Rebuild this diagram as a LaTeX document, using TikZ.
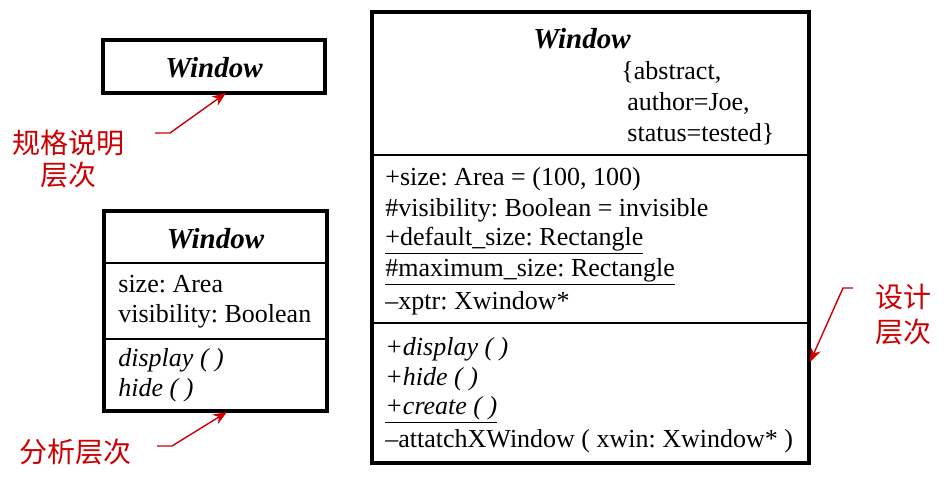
\documentclass[tikz,border=0pt]{standalone}
\usepackage{fontspec}
\setmainfont{Liberation Serif}
\newfontfamily\cjk{Noto Sans CJK SC}
\usetikzlibrary{arrows.meta}
\frenchspacing

\definecolor{notered}{RGB}{204,0,0}

\tikzset{
	classbox/.style={draw, line width=2pt, inner sep=0pt},
	divider/.style={line width=1pt},
	member/.style={anchor=west, inner sep=0pt, font=\fontsize{13}{15}\selectfont},
	classname/.style={inner sep=0pt, font=\fontsize{14.5}{16}\selectfont\bfseries\itshape},
	note/.style={inner sep=0pt, text=notered, font=\cjk\fontsize{14}{16}\selectfont},
	pointer/.style={draw=notered, line width=0.7pt, -{Stealth[length=7pt,width=5.5pt]}},
}

\begin{document}
\begin{tikzpicture}[x=0.5pt, y=-0.5pt]
	
	\useasboundingbox (0,0) rectangle (951,485);
	
	% specification level
	\node [classbox, minimum width=111pt, minimum height=26.5pt] (spec) at (214,66.5) {};
	\node [classname] (specname) at (214,68) {Window};
	
	% analysis level
	\node [classbox, minimum width=111.5pt, minimum height=100pt] (ana) at (215.5,311) {};
	\draw [divider] (ana.west |- 0,263) -- (ana.east |- 0,263);
	\draw [divider] (ana.west |- 0,339) -- (ana.east |- 0,339);
	\node [classname] (ananame) at (215.5,239) {Window};
	\node [member] (anasize) at (118,284) {size: Area};
	\node [member] (anavis) at (118,316) {visibility: Boolean};
	\node [member] (anadisp) at (118,360) {\textit{display ( )}};
	\node [member] (anahide) at (118,390) {\textit{hide ( )}};
	
	% design level
	\node [classbox, minimum width=218.5pt, minimum height=225.5pt] (design) at (590.5,237.5) {};
	\draw [divider] (design.west |- 0,155) -- (design.east |- 0,155);
	\draw [divider] (design.west |- 0,323) -- (design.east |- 0,323);
	\node [classname] (designname) at (582,39) {Window};
	\node [member] (tag1) at (621,72) {\{abstract,};
	\node [member] (tag2) at (627,103) {author=Joe,};
	\node [member] (tag3) at (627,134) {status=tested\}};
	
	\node [member] (attr1) at (385,179) {+size: Area = (100, 100)};
	\node [member] (attr2) at (385,210) {\#visibility: Boolean = invisible};
	\node [member] (attr3) at (385,241) {\underline{+default\_size: Rectangle}};
	\node [member] (attr4) at (385,272) {\underline{\#maximum\_size: Rectangle}};
	\node [member] (attr5) at (385,303) {--xptr: Xwindow*};
	
	\node [member] (op1) at (385,349) {\textit{+display ( )}};
	\node [member] (op2) at (385,379) {\textit{+hide ( )}};
	\node [member] (op3) at (385,410) {\underline{\textit{+create ( )}}};
	\node [member] (op4) at (385,441) {--attatchXWindow ( xwin: Xwindow* )};
	
	% red notes
	\node [note] (specnote) at (68,143) {规格说明};
	\node [note] (specnote2) at (68,175) {层次};
	\node [note] (ananote) at (75,452) {分析层次};
	\node [note] (designnote) at (903,297) {设计};
	\node [note] (designnote2) at (903,332) {层次};
	
	\coordinate (specfrom) at (155,133);
	\coordinate (specto) at (226,93);
	\coordinate (anafrom) at (157,446);
	\coordinate (anato) at (227,412);
	\coordinate (designfrom) at (853,288);
	\coordinate (designto) at (810,362);
	
	\draw [pointer] (specfrom) -- ++(15,0) -- (specto);
	\draw [pointer] (anafrom) -- ++(15,0) -- (anato);
	\draw [pointer] (designfrom) -- ++(-10,0) -- (designto);
	
\end{tikzpicture}
\end{document}
